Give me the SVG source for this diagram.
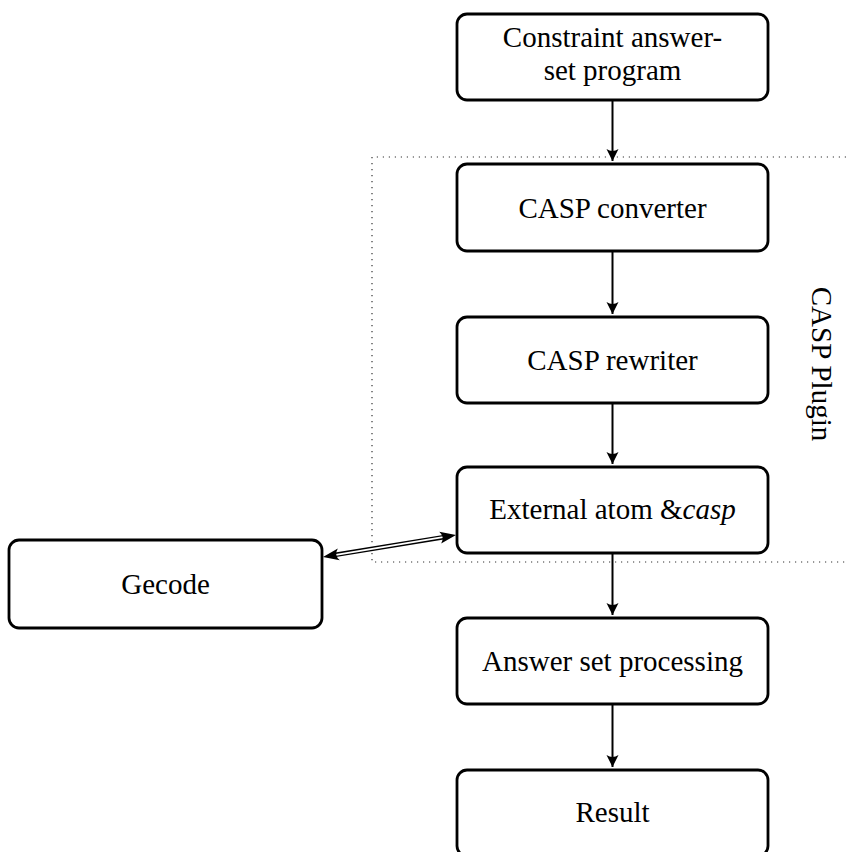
<svg xmlns="http://www.w3.org/2000/svg" width="848" height="852" viewBox="0 0 848 852">
<style>
.box{fill:#fff;stroke:#000;stroke-width:2.8}
text{font-family:"Liberation Serif","DejaVu Serif",serif;font-size:29px;fill:#000;text-anchor:middle}
.conn{stroke:#000;stroke-width:2;fill:none}
.head{fill:#000;stroke:none}
</style>
<defs>
<marker id="arr" markerUnits="userSpaceOnUse" markerWidth="14" markerHeight="14" refX="13" refY="7" orient="auto">
<path d="M13,7 L1,1 Q5,7 1,13 Z" fill="#000"/>
</marker>
</defs>
<g id="plugin-frame">
<path d="M852,157 H372 V562 H852" fill="none" stroke="#333" stroke-width="1.2" stroke-dasharray="1.2 4.8"/>
<text font-family="Liberation Serif, serif" transform="translate(812,364) rotate(90)">CASP Plugin</text>
</g>
<g id="connectors">
<line class="conn" x1="612.5" y1="100" x2="612.5" y2="161" marker-end="url(#arr)"/>
<line class="conn" x1="612.5" y1="251" x2="612.5" y2="314" marker-end="url(#arr)"/>
<line class="conn" x1="612.5" y1="403" x2="612.5" y2="464" marker-end="url(#arr)"/>
<line class="conn" x1="612.5" y1="553" x2="612.5" y2="615" marker-end="url(#arr)"/>
<line class="conn" x1="612.5" y1="704" x2="612.5" y2="767" marker-end="url(#arr)"/>
<g id="gecode-link">
<line x1="334" y1="555.1" x2="445" y2="536.9" stroke="#000" stroke-width="4.6"/>
<line x1="333" y1="555.3" x2="446" y2="536.7" stroke="#fff" stroke-width="1.8"/>
<path class="head" transform="translate(456,535) rotate(-9.39)" d="M0,0 L-16,-6 Q-11,0 -16,6 Z"/>
<path class="head" transform="translate(323,557) rotate(170.61)" d="M0,0 L-16,-6 Q-11,0 -16,6 Z"/>
</g>
</g>
<g id="node-program">
<rect class="box" x="457" y="14" width="311" height="86" rx="10"/>
<text font-family="Liberation Serif, serif" x="612.5" y="47">Constraint answer-</text>
<text font-family="Liberation Serif, serif" x="612.5" y="80">set program</text>
</g>
<g id="node-converter">
<rect class="box" x="457" y="164" width="311" height="87" rx="10"/>
<text font-family="Liberation Serif, serif" x="612.5" y="217.5">CASP converter</text>
</g>
<g id="node-rewriter">
<rect class="box" x="457" y="317" width="311" height="86" rx="10"/>
<text font-family="Liberation Serif, serif" x="612.5" y="369.5">CASP rewriter</text>
</g>
<g id="node-external">
<rect class="box" x="457" y="467" width="311" height="86" rx="10"/>
<text font-family="Liberation Serif, serif" x="612.5" y="519">External atom &amp;<tspan font-style="italic">casp</tspan></text>
</g>
<g id="node-gecode">
<rect class="box" x="9" y="540" width="313" height="88" rx="10"/>
<text font-family="Liberation Serif, serif" x="165.5" y="593.5">Gecode</text>
</g>
<g id="node-answerset">
<rect class="box" x="457" y="618" width="311" height="86" rx="10"/>
<text font-family="Liberation Serif, serif" x="612.5" y="670.5">Answer set processing</text>
</g>
<g id="node-result">
<rect class="box" x="457" y="770" width="311" height="86" rx="10"/>
<text font-family="Liberation Serif, serif" x="612.5" y="822">Result</text>
</g>
</svg>
